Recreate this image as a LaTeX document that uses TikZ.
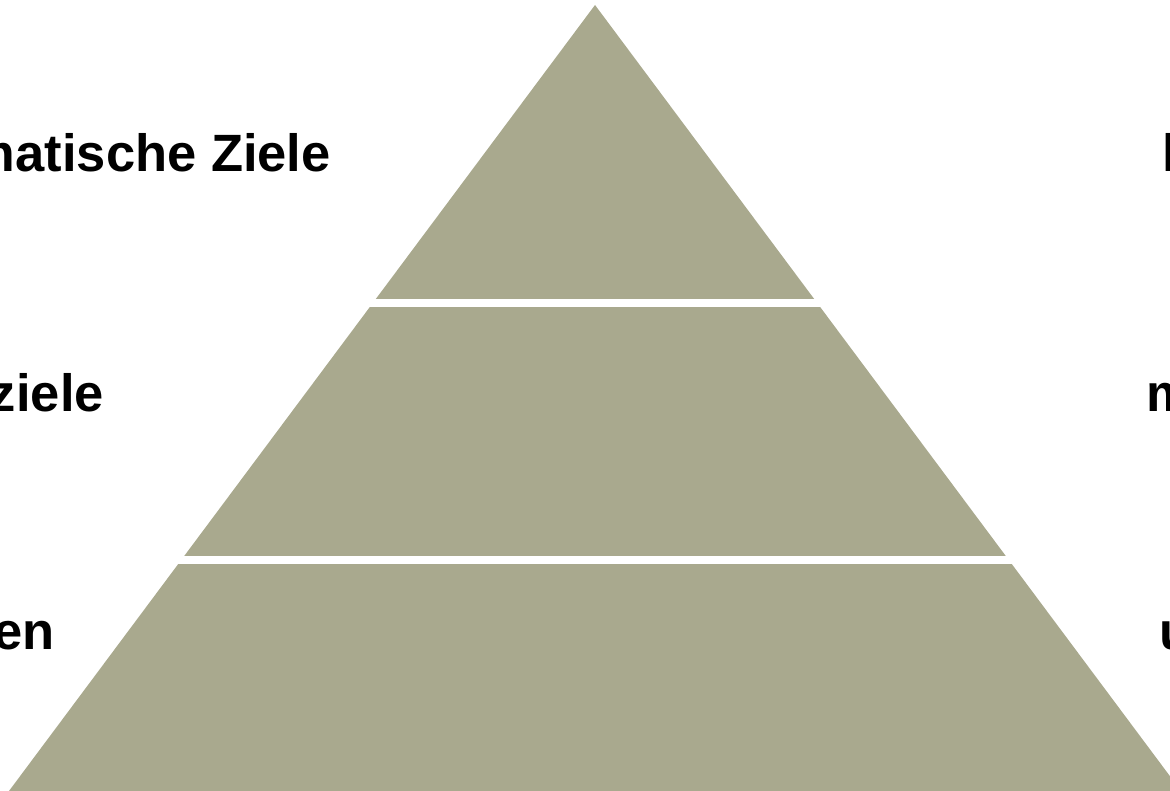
\documentclass[tikz,border=0pt]{standalone}
\usepackage{fontspec}
\setmainfont{Liberation Sans}
\definecolor{pyr}{RGB}{169,169,142}
\begin{document}
\begin{tikzpicture}[x=1pt,y=-1pt,
  lbl/.style={inner sep=0pt,font=\fontsize{52.5}{60}\selectfont\bfseries},
  tier/.style={fill=pyr,draw=none}]
\useasboundingbox (0,0) rectangle (1170,791);
\clip (0,0) rectangle (1170,791);
\begin{scope}
\clip (595,5) -- (9,791) -- (1181,791) -- cycle;
\fill[pyr] (0,0) rectangle (1170,299);
\fill[pyr] (0,307) rectangle (1170,556);
\fill[pyr] (0,564) rectangle (1170,800);
\end{scope}
\node[lbl,anchor=base east] (l1) at (331,172) {matische Ziele};
\node[lbl,anchor=base east] (l2) at (104,412) {ziele};
\node[lbl,anchor=base east] (l3) at (55,649) {en};
\node[lbl,anchor=base west] (r1) at (1162,172) {l};
\node[lbl,anchor=base west] (r2) at (1146,412) {m};
\node[lbl,anchor=base west] (r3) at (1159,649) {u};
\end{tikzpicture}
\end{document}
